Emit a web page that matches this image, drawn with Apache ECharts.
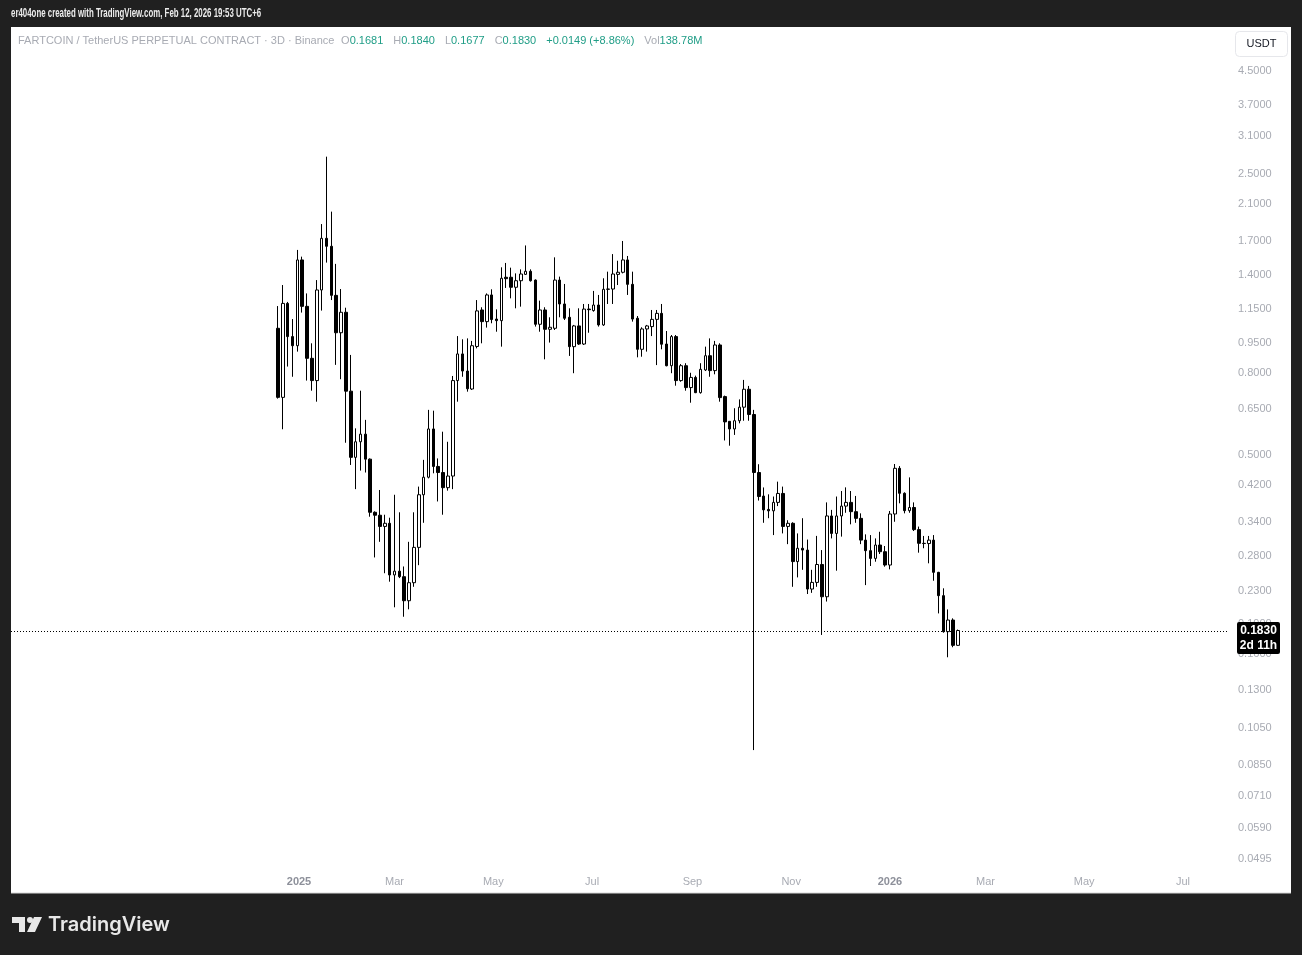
<!DOCTYPE html>
<html><head><meta charset="utf-8">
<script src="https://cdn.jsdelivr.net/npm/echarts@6/dist/echarts.min.js"></script>
<style>html,body{margin:0;padding:0;background:#202020;}#c{width:1302px;height:955px;}</style>
</head><body><div id="c"></div>
<script>
// ---- data (FARTCOIN/USDT perpetual, 3D candles) ----
const firstCandleDate = '2024-12-19';
const candleStepDays = 3;
const openPrices = [1.032,0.695,1.190,0.984,0.934,1.526,1.170,0.869,0.765,1.285,
1.727,1.650,1.246,1.006,1.131,0.720,0.493,0.539,0.563,0.488,
0.360,0.354,0.332,0.338,0.2515,0.257,0.249,0.217,0.2406,0.2945,
0.398,0.440,0.580,0.468,0.452,0.4145,0.443,0.765,0.891,0.808,
0.729,0.930,1.146,1.072,1.249,1.088,1.078,1.382,1.382,1.305,
1.355,1.405,1.430,1.360,1.056,1.146,1.026,1.032,1.360,1.186,
1.099,0.929,1.046,0.943,1.152,1.142,1.179,1.052,1.290,1.292,
1.405,1.422,1.526,1.327,1.093,0.915,1.028,1.042,1.086,1.124,
0.943,0.833,0.984,0.765,0.833,0.735,0.779,0.714,0.813,0.882,
0.810,0.938,0.698,0.606,0.580,0.608,0.657,0.728,0.630,0.452,
0.395,0.366,0.363,0.381,0.401,0.332,0.338,0.2715,0.293,0.290,
0.232,0.241,0.267,0.222,0.3525,0.319,0.3525,0.373,0.381,0.3613,
0.3477,0.307,0.289,0.2765,0.2985,0.2873,0.2662,0.3565,0.463,0.4013,
0.3634,0.370,0.326,0.3014,0.3010,0.307,0.2553,0.2234,0.1818,0.1943,
0.1681];
const highPrices = [1.172,1.322,1.200,1.088,1.616,1.555,1.260,0.947,1.360,1.874,
2.756,2.012,1.492,1.292,1.161,0.886,0.582,0.722,0.611,0.490,
0.362,0.409,0.355,0.349,0.398,0.360,0.264,0.304,0.360,0.417,
0.486,0.647,0.644,0.490,0.571,0.539,0.7855,0.987,0.969,0.974,
0.960,1.213,1.164,1.260,1.290,1.150,1.463,1.500,1.460,1.413,
1.446,1.658,1.446,1.365,1.209,1.164,1.099,1.549,1.387,1.330,
1.157,1.052,1.157,1.186,1.186,1.278,1.249,1.374,1.427,1.578,
1.519,1.701,1.561,1.427,1.107,1.038,1.052,1.146,1.146,1.186,
1.016,0.993,0.993,0.841,0.845,0.800,0.787,0.845,0.929,0.974,
0.960,0.947,0.702,0.607,0.653,0.687,0.768,0.742,0.647,0.474,
0.415,0.399,0.394,0.429,0.417,0.344,0.340,0.319,0.348,0.308,
0.259,0.3145,0.290,0.381,0.365,0.394,0.4066,0.4152,0.4066,0.3953,
0.3578,0.3173,0.316,0.310,0.322,0.2968,0.3627,0.4746,0.469,0.4036,
0.4396,0.381,0.3317,0.3144,0.3144,0.316,0.2560,0.233,0.2065,0.1962,
0.1840];
const lowPrices = [0.690,0.579,0.829,0.782,0.903,1.129,0.765,0.722,0.678,1.142,
1.503,1.213,0.837,0.771,0.536,0.472,0.411,0.457,0.452,0.351,
0.278,0.304,0.254,0.242,0.209,0.247,0.198,0.2066,0.235,0.266,
0.339,0.437,0.450,0.383,0.355,0.4075,0.411,0.678,0.782,0.718,
0.725,0.920,0.947,1.036,1.062,1.012,0.929,1.300,1.225,1.157,
1.168,1.400,1.348,1.042,1.012,0.864,0.951,1.022,1.099,1.082,
0.881,0.798,0.938,0.938,1.006,1.135,1.042,1.046,1.186,1.186,
1.322,1.413,1.249,1.072,0.874,0.877,0.903,0.987,0.836,0.915,
0.830,0.798,0.743,0.760,0.722,0.674,0.712,0.710,0.808,0.782,
0.793,0.678,0.543,0.527,0.5605,0.599,0.608,0.608,0.0923,0.385,
0.339,0.348,0.316,0.373,0.319,0.300,0.235,0.248,0.259,0.2255,
0.227,0.235,0.1784,0.216,0.310,0.2577,0.3132,0.359,0.336,0.339,
0.300,0.2373,0.2647,0.2713,0.2835,0.2637,0.2597,0.341,0.379,0.3578,
0.359,0.3234,0.2857,0.293,0.2688,0.2433,0.2018,0.1807,0.157,0.1663,
0.1677];
const closePrices = [0.695,1.190,0.984,0.934,1.526,1.170,0.869,0.765,1.285,1.727,
1.650,1.246,1.006,1.131,0.720,0.493,0.539,0.563,0.488,0.360,
0.354,0.332,0.338,0.2515,0.257,0.249,0.217,0.2406,0.2945,0.398,
0.440,0.580,0.468,0.452,0.4145,0.443,0.765,0.891,0.808,0.730,
0.934,1.140,1.072,1.249,1.085,1.078,1.374,1.371,1.305,1.355,
1.408,1.430,1.355,1.056,1.146,1.026,1.038,1.360,1.186,1.093,
0.929,1.046,0.943,1.152,1.148,1.179,1.052,1.290,1.292,1.408,
1.422,1.526,1.327,1.088,0.915,1.028,1.046,1.086,1.124,0.942,
0.833,0.984,0.765,0.833,0.735,0.779,0.714,0.816,0.882,0.810,
0.938,0.694,0.604,0.580,0.608,0.657,0.728,0.630,0.452,0.394,
0.365,0.363,0.381,0.401,0.332,0.338,0.2715,0.293,0.290,0.232,
0.241,0.267,0.222,0.3525,0.319,0.3525,0.373,0.381,0.3613,0.3477,
0.307,0.289,0.2765,0.2985,0.2873,0.2662,0.3565,0.463,0.4013,0.3634,
0.370,0.326,0.3014,0.3010,0.307,0.2553,0.2234,0.1818,0.1943,0.1681,
0.1830];
const priceTickLabels = [4.5,3.7,3.1,2.5,2.1,1.7,1.4,1.15,0.95,0.8,0.65,0.5,0.42,0.34,0.28,0.23,0.19,0.16,0.13,0.105,0.085,0.071,0.059,0.0495];
const firstTimeLabel = '2025-01-01';
const monthNames = ['Jan','Feb','Mar','Apr','May','Jun','Jul','Aug','Sep','Oct','Nov','Dec'];
const volumeText = '138.78M';
const countdownText = '2d 11h';
const headerText = 'er404one created with TradingView.com, Feb 12, 2026 19:53 UTC+6';
const symbolText = 'FARTCOIN / TetherUS PERPETUAL CONTRACT · 3D · Binance';

// ---- build ----
const DAY = 86400000;
const t0 = Date.parse(firstCandleDate + 'T00:00:00Z');
const candleData = openPrices.map((o, i) => [
  t0 + i * candleStepDays * DAY,
  Math.log10(o), Math.log10(closePrices[i]), Math.log10(lowPrices[i]), Math.log10(highPrices[i])
]);
const n = openPrices.length;
const lastClose = closePrices[n - 1];
const prevClose = closePrices[n - 2];
const chg = lastClose - prevClose;
const pct = chg / prevClose * 100;
const fmt4 = v => v.toFixed(4);
const labelStart = Date.parse(firstTimeLabel + 'T00:00:00Z');

const base2025 = Date.UTC(2025, 0, 1);
const pxPerDay = 1.619;
const xMin = base2025 - (299 - 11) / pxPerDay * DAY;
const xMax = base2025 + (1228 - 299) / pxPerDay * DAY;
const yMax = Math.log10(4.5) + (71 - 28) / 402.3;
const yMin = yMax - (867 - 28) / 402.3;

const FONT = '"Liberation Sans", "DejaVu Sans", sans-serif';
const chart = echarts.init(document.getElementById('c'), null, {renderer: 'canvas'});
const sp = '   ';

const baseGraphic = [
  {type: 'rect', id: 'panel', z: -10, silent: true, shape: {x: 11, y: 27, width: 1280, height: 866}, style: {fill: '#ffffff'}},
  {type: 'line', id: 'panelBottom', z: -9, silent: true, shape: {x1: 11, y1: 893, x2: 1291, y2: 893}, style: {stroke: '#d6d6d6', lineWidth: 1}},
  {type: 'text', id: 'header', x: 11, y: 14, scaleX: 0.63, style: {text: headerText, fill: '#ececec', font: 'bold 12.5px "Liberation Sans", sans-serif', verticalAlign: 'middle'}},
  {type: 'text', id: 'title', left: 18, top: 35, style: {
    text: '{g|' + symbolText + '}  {g|O}{v|' + fmt4(openPrices[n-1]) + '}' + sp + '{g|H}{v|' + fmt4(highPrices[n-1]) + '}' + sp + '{g|L}{v|' + fmt4(lowPrices[n-1]) + '}' + sp + '{g|C}{v|' + fmt4(lastClose) + '}' + sp + '{v|' + (chg >= 0 ? '+' : '') + fmt4(chg) + ' (' + (pct >= 0 ? '+' : '') + pct.toFixed(2) + '%)}' + sp + '{g|Vol}{v|' + volumeText + '}',
    rich: {g: {fill: '#a8abb3', fontSize: 11, fontFamily: FONT}, v: {fill: '#1f9d86', fontSize: 11, fontFamily: FONT}}
  }},
  {type: 'rect', id: 'usdtBox', z: 5, shape: {x: 1235.5, y: 31.5, width: 52, height: 25, r: 4}, style: {fill: '#ffffff', stroke: '#e6e7eb', lineWidth: 1}},
  {type: 'text', id: 'usdtText', z: 6, x: 1261.5, y: 44, style: {text: 'USDT', fill: '#131722', font: '11px ' + FONT, align: 'center', verticalAlign: 'middle'}},
  // TradingView logo
  {type: 'rect', id: 'lg1', shape: {x: 12, y: 917, width: 13, height: 6}, style: {fill: '#e8e8e8'}},
  {type: 'rect', id: 'lg2', shape: {x: 19, y: 917, width: 6, height: 15}, style: {fill: '#e8e8e8'}},
  {type: 'circle', id: 'lg3', shape: {cx: 30, cy: 920, r: 3}, style: {fill: '#e8e8e8'}},
  {type: 'polygon', id: 'lg4', shape: {points: [[34, 917], [42, 917], [35, 932], [27, 932]]}, style: {fill: '#e8e8e8'}},
  {type: 'text', id: 'lgText', x: 48, y: 925, style: {text: 'TradingView', fill: '#e8e8e8', font: '600 20px Inter, "Noto Sans", sans-serif', verticalAlign: 'middle'}}
];

chart.setOption({
  animation: false,
  useUTC: true,
  backgroundColor: '#202020',
  grid: {left: 11, right: 74, top: 28, bottom: 88},
  xAxis: {
    type: 'time', min: xMin, max: xMax,
    minInterval: 59 * DAY, maxInterval: 62 * DAY,
    axisLine: {show: false}, axisTick: {show: false}, splitLine: {show: false},
    axisLabel: {
      margin: 9, color: '#a8abb3', fontSize: 11, fontFamily: FONT, hideOverlap: false,
      showMinLabel: false, showMaxLabel: false,
      formatter: function (v) {
        if (v < labelStart) return '';
        const d = new Date(v);
        const m = d.getUTCMonth();
        return m === 0 ? '{y|' + d.getUTCFullYear() + '}' : monthNames[m];
      },
      rich: {y: {fontWeight: 'bold', color: '#8d909a', fontSize: 11, fontFamily: FONT}}
    }
  },
  yAxis: {
    type: 'value', position: 'right', min: yMin, max: yMax, scale: true,
    axisLine: {show: false}, axisTick: {show: false}, splitLine: {show: false},
    axisLabel: {
      customValues: priceTickLabels.map(v => Math.log10(v)),
      margin: 10, color: '#a8abb3', fontSize: 11, fontFamily: FONT, hideOverlap: false,
      formatter: v => Math.pow(10, v).toFixed(4)
    }
  },
  series: [{
    type: 'candlestick',
    data: candleData,
    encode: {x: 0, y: [1, 2, 3, 4]},
    barWidth: 3,
    itemStyle: {color: '#ffffff', color0: '#000000', borderColor: '#000000', borderColor0: '#000000', borderColorDoji: '#000000', borderWidth: 1},
    markLine: {
      silent: true, symbol: ['none', 'none'],
      lineStyle: {color: '#000000', type: [1, 2], width: 1},
      label: {show: false},
      data: [{yAxis: Math.log10(lastClose)}]
    }
  }],
  graphic: baseGraphic
});

const py = chart.convertToPixel({yAxisIndex: 0}, Math.log10(lastClose));
chart.setOption({graphic: baseGraphic.concat([
  {type: 'rect', id: 'pxBox', z: 50, shape: {x: 1237, y: py - 8.5, width: 43, height: 32, r: 2}, style: {fill: '#000000'}},
  {type: 'text', id: 'pxText', z: 51, x: 1258.5, y: py, style: {text: fmt4(lastClose), fill: '#ffffff', font: 'bold 12px ' + FONT, align: 'center', verticalAlign: 'middle'}},
  {type: 'text', id: 'cdText', z: 51, x: 1258.5, y: py + 15, style: {text: countdownText, fill: '#ffffff', font: 'bold 12px ' + FONT, align: 'center', verticalAlign: 'middle'}}
])});
</script>
</body></html>
